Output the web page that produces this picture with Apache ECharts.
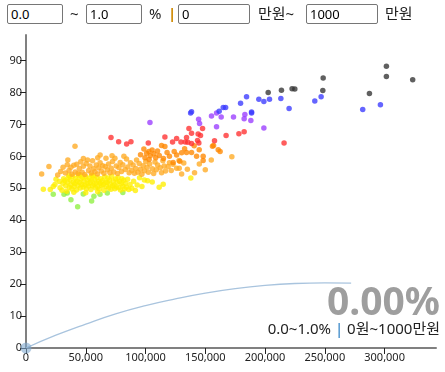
<!DOCTYPE html>
<html>
<head>
<meta charset="utf-8">
<script src="https://cdn.jsdelivr.net/npm/echarts@6/dist/echarts.min.js"></script>
<style>
  html, body { margin: 0; padding: 0; background: #fff; }
  #wrap { position: relative; width: 445px; height: 372px; overflow: hidden; font-family: 'Noto Sans', 'Noto Sans CJK KR', sans-serif; }
  #chart { position: absolute; left: 0; top: 0; width: 445px; height: 372px; }
  .ctl { position: absolute; top: 4px; height: 20px; box-sizing: border-box; border: 1px solid #767676; border-radius: 2px; font-size: 13px; padding: 0 3px; font-family: 'Noto Sans', sans-serif; color: #000; background: #fff; }
  .lbl { position: absolute; top: 3px; font-size: 15px; line-height: 20px; color: #222; font-family: 'Noto Sans', 'Noto Sans CJK KR', sans-serif; }
</style>
</head>
<body>
<div id="wrap">
  <div id="chart"></div>
  <input class="ctl" style="left:7px;width:56px" value="0.0">
  <span class="lbl" style="left:70px">~</span>
  <input class="ctl" style="left:86px;width:56px" value="1.0">
  <span class="lbl" style="left:149px">%</span>
  <span class="lbl" style="left:168px;color:#d08a00;font-weight:bold">|</span>
  <input class="ctl" style="left:178px;width:72px" value="0">
  <span class="lbl" style="left:258px">만원~</span>
  <input class="ctl" style="left:306px;width:72px" value="1000">
  <span class="lbl" style="left:385px">만원</span>
</div>
<script>
const xTicks = [0, 50000, 100000, 150000, 200000, 250000, 300000];
const yTicks = [0, 10, 20, 30, 40, 50, 60, 70, 80, 90];

const greenPts = [[22800,48.1],[31800,48.1],[34500,48.5],[37600,46.4],[43200,44.2],[47900,48.2],[54900,46.0],[56800,47.5],[61900,48.1],[68000,48.5],[81000,48.7]];

const yellowPts = [[14500,49.7],[20300,49.6],[22800,50.6],[24200,51.2],[25100,52.8],[27900,52.1],[28500,50.2],[30100,49.4],[30800,51.6],[31500,53.0],[32400,52.4],[33200,50.8],[34000,49.1],[34800,51.9],[35500,53.4],[36200,50.3],[36900,52.7],[37500,51.1],[38300,49.8],[38900,53.8],[39600,52.0],[40200,50.6],[40900,51.5],[41500,53.1],[42200,49.5],[42800,52.3],[43500,50.9],[44100,54.0],[44800,51.8],[45400,50.1],[46000,52.9],[46700,51.2],[47300,53.5],[47900,50.4],[48600,52.2],[49200,51.0],[49800,53.7],[50500,49.9],[51100,52.6],[51700,51.4],[52400,50.7],[53000,53.2],[53700,51.9],[54300,49.6],[54900,52.5],[55600,50.8],[56200,53.9],[56800,51.3],[57500,52.8],[58100,50.2],[58700,51.7],[59400,53.4],[60000,50.5],[60700,52.1],[61300,49.8],[62000,51.6],[62600,53.0],[63300,50.9],[63900,52.4],[64600,51.1],[65200,49.4],[65900,53.6],[66500,52.0],[67200,50.6],[67800,51.8],[68500,53.2],[69100,50.1],[69800,52.6],[70400,51.3],[71100,49.7],[71700,53.8],[72400,50.8],[73000,52.3],[73700,51.0],[74300,49.9],[75000,52.9],[75600,50.4],[76300,51.9],[77000,53.4],[77600,50.2],[78300,52.1],[79000,49.5],[79600,51.4],[80300,53.0],[81000,50.7],[81700,52.5],[82400,49.8],[83100,51.6],[84000,50.3],[85000,52.8],[86000,49.6],[87000,51.2],[88500,50.0],[90000,52.2],[91500,49.3],[93000,51.0],[95000,53.3],[97000,50.6],[99000,52.6],[101700,52.4],[105600,52.0],[111400,50.3],[114800,51.3],[137900,53.2],[40000,48.8],[50000,48.6],[60000,48.9],[45000,54.3],[55000,54.1],[36000,54.0]];

const orangePts = [[13100,54.5],[19200,56.8],[41000,63.2],[26500,54.2],[29000,55.3],[31000,56.6],[33000,54.8],[34500,57.4],[36000,55.6],[37600,56.6],[38500,54.4],[40000,57.2],[41200,55.1],[42400,57.5],[43500,54.6],[44600,56.2],[45800,58.3],[47000,55.0],[48000,56.9],[49200,54.3],[50300,57.8],[51500,58.9],[52400,55.6],[53500,57.0],[54600,54.8],[55700,58.6],[56600,56.1],[57700,55.2],[58800,57.3],[59800,54.5],[60900,56.4],[62000,58.0],[63000,55.4],[64100,57.1],[65200,54.7],[66300,56.8],[66900,59.4],[68000,55.8],[69100,57.6],[70200,54.9],[71300,56.3],[72400,58.4],[73500,55.1],[74400,59.4],[75500,57.0],[76600,54.6],[77700,56.5],[78800,58.1],[79900,55.3],[81000,57.4],[81900,60.0],[83000,55.9],[84100,59.2],[85200,56.7],[86300,54.9],[87400,58.0],[88500,55.6],[89600,57.3],[90700,54.7],[91800,56.2],[92500,58.9],[93600,55.0],[94700,57.8],[95800,56.0],[96900,54.4],[98000,57.1],[99100,55.5],[100200,58.4],[101300,56.6],[102400,55.0],[103500,57.6],[105700,56.1],[106800,54.6],[107900,58.2],[109000,55.8],[110100,57.3],[112300,56.4],[113400,54.9],[114500,58.6],[115600,57.0],[116700,55.4],[118900,56.8],[120000,58.0],[121500,55.6],[123000,57.5],[126000,56.3],[128000,58.7],[130200,54.5],[128200,56.3],[132000,57.9],[135000,56.0],[141000,54.9],[145000,57.6],[150000,55.8],[155000,58.9],[172200,59.9],[35000,58.9],[48000,59.3],[60000,59.6],[72000,60.2],[62000,60.4]];

const darkOrangePts = [[98600,62.3],[100900,61.0],[102800,61.5],[104000,60.2],[105500,62.0],[107000,60.8],[108500,59.6],[110000,61.7],[111500,60.3],[113400,63.4],[116200,63.1],[118000,61.2],[120000,60.0],[124000,61.5],[126000,60.4],[128700,58.5],[130200,61.1],[134300,61.2],[138500,61.2],[140700,63.3],[132700,62.4],[144900,62.1],[142700,60.0],[148200,58.7],[148200,60.0],[156000,63.2],[156900,63.4],[160800,62.1],[162400,61.5],[123100,58.1],[99500,59.6],[103000,59.0],[115000,59.3],[95800,60.5]];

const redPts = [[71100,65.9],[77500,64.6],[84200,63.9],[87800,64.6],[102300,64.2],[116200,66.1],[126000,65.6],[122600,64.5],[129600,64.5],[133200,64.5],[135400,64.4],[138500,64.0],[134300,65.9],[136300,68.7],[138500,67.2],[144000,67.0],[146000,66.5],[143500,65.0],[144600,64.2],[147700,68.7],[157700,64.9],[167400,66.5],[178100,67.1],[182500,67.7],[215900,64.2]];

const purplePts = [[103700,70.6],[159400,73.6],[155200,72.6],[163300,72.3],[173600,72.3],[183100,73.1],[182500,71.8],[188100,71.2],[144400,71.6],[145200,70.3],[159400,69.3],[199000,68.9]];

const bluePts = [[138500,74.0],[137700,73.6],[161600,74.1],[165000,75.3],[167000,75.3],[179500,76.6],[184500,78.7],[188700,73.9],[188700,73.6],[194800,77.9],[199000,77.2],[203700,77.9],[213200,78.1],[220100,75.0],[241600,77.3],[246900,78.7],[281700,74.7],[296500,76.2]];

const grayPts = [[202600,80.0],[213700,80.7],[222600,81.2],[224900,81.1],[248300,80.6],[248600,84.5],[287300,79.7],[301500,88.2],[301500,85.0],[323500,84.0]];

const curvePts = [[0,0],[25000,4.0],[50000,7.5],[75000,10.7],[100000,13.3],[125000,15.4],[150000,17.2],[175000,18.6],[200000,19.6],[225000,20.2],[250000,20.4],[272000,20.3]];
const originPts = [[0,0]];

const bigText = '0.00%';
const subLeft = '0.0~1.0% ';
const subSep = '|';
const subRight = ' 0원~1000만원';

const chart = echarts.init(document.getElementById('chart'), null, { renderer: 'canvas' });
const FONT = "'Noto Sans', 'Noto Sans CJK KR', sans-serif";
function sc(name, data, color) {
  return { name, type: 'scatter', data, symbolSize: 5.5, itemStyle: { color, opacity: 0.78 }, silent: true, z: 3 };
}
chart.setOption({
  animation: false,
  grid: { left: 26, right: 9, top: 35, bottom: 24 },
  xAxis: {
    type: 'value', min: 0, max: 343000, interval: 50000,
    splitLine: { show: false },
    axisLine: { show: true, onZero: false, lineStyle: { color: '#808080', width: 2 } },
    axisTick: { show: true, length: 6, lineStyle: { color: '#222', width: 1 } },
    axisLabel: { showMaxLabel: false, color: '#222', fontSize: 11, fontFamily: FONT, margin: 4,
      formatter: v => v.toLocaleString('en-US') }
  },
  yAxis: {
    type: 'value', min: 0, max: 98, interval: 10,
    splitLine: { show: false },
    axisLine: { show: true, onZero: false, lineStyle: { color: '#808080', width: 2 } },
    axisTick: { show: true, length: 6, lineStyle: { color: '#222', width: 1 } },
    axisLabel: { showMaxLabel: false, color: '#222', fontSize: 11, fontFamily: FONT, margin: 4 }
  },
  series: [
    { type: 'line', data: curvePts, smooth: true, symbol: 'none', lineStyle: { color: '#a9c4de', width: 1.3 }, silent: true, z: 2 },
    { type: 'scatter', data: originPts, symbolSize: 11, itemStyle: { color: '#7fa8cf', opacity: 0.6 }, silent: true, z: 4 },
    sc('green', greenPts, '#8ef040'),
    sc('yellow', yellowPts, '#ffee00'),
    sc('orange', orangePts, '#ffaa22'),
    sc('darkorange', darkOrangePts, '#ff8800'),
    sc('red', redPts, '#ff3030'),
    sc('purple', purplePts, '#9a3cff'),
    sc('blue', bluePts, '#3a3aff'),
    sc('gray', grayPts, '#333333')
  ],
  graphic: [
    { type: 'text', right: 5, top: 284, z: 10,
      style: { text: bigText, font: "bold 39px " + FONT, fill: '#9e9e9e' } },
    { type: 'text', right: 5, top: 322, z: 10,
      style: { text: '{a|' + subLeft + '}{b|' + subSep + '}{a|' + subRight + '}',
        rich: { a: { fontSize: 15, fontFamily: FONT, fill: '#222' }, b: { fontSize: 15, fontFamily: FONT, fill: '#1f77c0' } } } }
  ]
});
</script>
</body>
</html>
